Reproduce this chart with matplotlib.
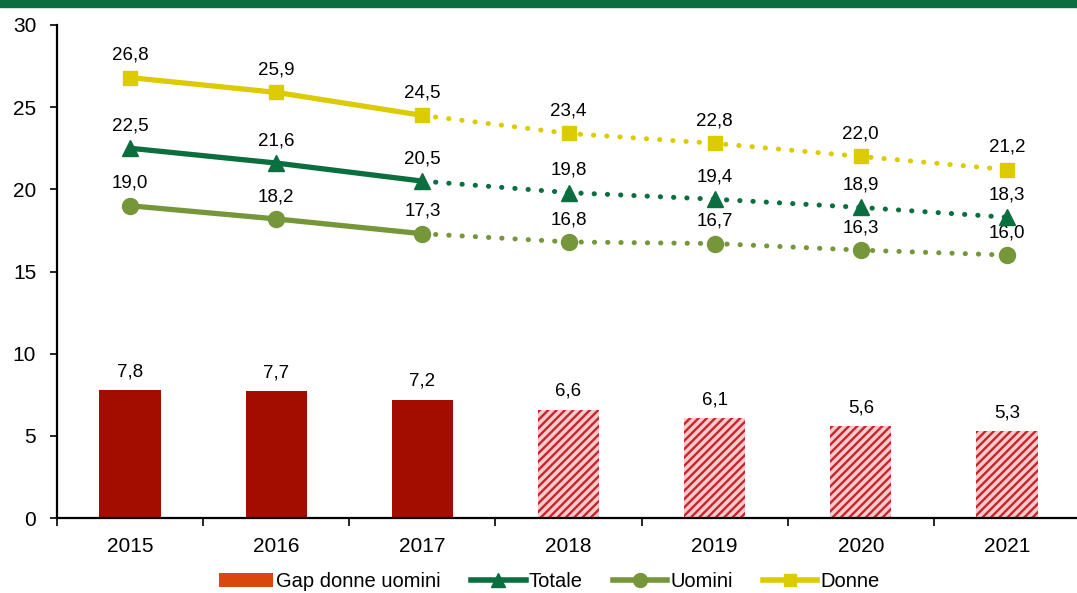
import matplotlib
matplotlib.use("Agg")
import matplotlib.pyplot as plt
from matplotlib.patches import Patch, Rectangle
from matplotlib.lines import Line2D
import numpy as np

# data
anni = ["2015", "2016", "2017", "2018", "2019", "2020", "2021"]
gap = [7.8, 7.7, 7.2, 6.6, 6.1, 5.6, 5.3]
totale = [22.5, 21.6, 20.5, 19.8, 19.4, 18.9, 18.3]
uomini = [19.0, 18.2, 17.3, 16.8, 16.7, 16.3, 16.0]
donne = [26.8, 25.9, 24.5, 23.4, 22.8, 22.0, 21.2]
n_osservati = 3  # 2015-2017 observed, the rest projected

plt.rcParams["font.family"] = ["Liberation Sans", "DejaVu Sans"]
plt.rcParams["hatch.linewidth"] = 1.7

c_band = "#0b6e41"
c_bar = "#a30d00"
c_hatch = "#c8242c"
c_hatch_bg = "#f8cccc"
c_tot = "#0b6e3f"
c_uom = "#76963a"
c_don = "#dccb00"

fig = plt.figure(figsize=(10.77, 5.93), dpi=100)
fig.patches.append(Rectangle((0, 1 - 7 / 593), 1, 7 / 593, transform=fig.transFigure,
                             color=c_band, zorder=0))
ax = fig.add_axes([57 / 1077, 1 - 518 / 593, 1023 / 1077, 493 / 593])

x = np.arange(len(anni))

# bars
for i, v in enumerate(gap):
    if i < n_osservati:
        ax.bar(x[i], v, width=0.42, color=c_bar, zorder=2)
    else:
        ax.bar(x[i], v, width=0.42, facecolor=c_hatch_bg, edgecolor=c_hatch,
               hatch="////", linewidth=0, zorder=2)
    ax.annotate(f"{v:.1f}".replace(".", ","), (x[i], v), xytext=(0, 7),
                textcoords="offset points", ha="center", va="bottom", fontsize=13.5)

# lines
serie = [(donne, c_don, "s", 10), (totale, c_tot, "^", 11), (uomini, c_uom, "o", 11.5)]
for vals, col, mk, ms in serie:
    k = n_osservati
    ax.plot(x[:k], vals[:k], color=col, lw=3.8, solid_capstyle="round", zorder=3)
    ax.plot(x[k - 1:], vals[k - 1:], color=col, lw=3.6, linestyle=(0, (0.05, 2.6)),
            dash_capstyle="round", zorder=3)
    ax.plot(x, vals, linestyle="none", marker=mk, ms=ms, color=col, zorder=4)
    for xi, v in zip(x, vals):
        ax.annotate(f"{v:.1f}".replace(".", ","), (xi, v), xytext=(0, 10),
                    textcoords="offset points", ha="center", va="bottom", fontsize=13.5)

ax.set_xlim(-0.5, 6.5)
ax.set_ylim(0, 30)
ax.set_yticks([0, 5, 10, 15, 20, 25, 30])
ax.set_xticks(x)
ax.set_xticklabels(anni)
ax.set_xticks(np.arange(-0.5, 7, 1), minor=True)
ax.tick_params(axis="x", which="major", length=0, pad=14, labelsize=15)
ax.tick_params(axis="x", which="minor", length=6, width=1.2, direction="out")
ax.tick_params(axis="y", length=5, width=1.2, labelsize=15, pad=10)
for s in ["top", "right"]:
    ax.spines[s].set_visible(False)
ax.spines["left"].set_linewidth(1.6)
ax.spines["bottom"].set_linewidth(1.6)

handles = [
    Patch(facecolor="#d9460f", label="Gap donne uomini"),
    Line2D([], [], color=c_tot, lw=4, marker="^", ms=10, label="Totale"),
    Line2D([], [], color=c_uom, lw=4, marker="o", ms=10, label="Uomini"),
    Line2D([], [], color=c_don, lw=4, marker="s", ms=9, label="Donne"),
]
fig.legend(handles=handles, loc="center", bbox_to_anchor=(0.51, 0.02), ncol=4,
           frameon=False, fontsize=14.5, handlelength=2.7, handletextpad=0.15,
           columnspacing=1.5, handleheight=0.7)

fig.savefig("out.png", dpi=100)
